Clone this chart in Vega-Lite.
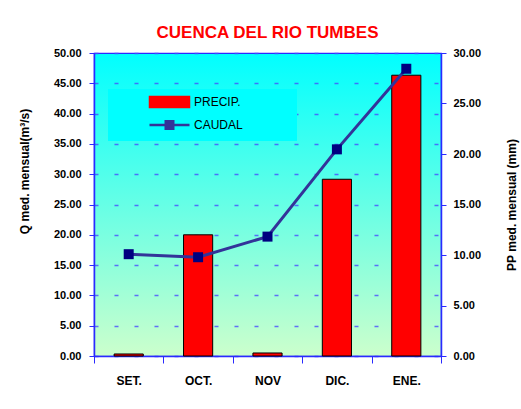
{
  "$schema": "https://vega.github.io/schema/vega-lite/v6.json",
  "width": 347,
  "height": 303,
  "autosize": {"type": "none"},
  "padding": {"left": 94, "top": 53, "right": 80, "bottom": 53},
  "background": "white",
  "config": {
    "view": {
      "stroke": "#2a2aff",
      "strokeWidth": 1.2,
      "fill": {"gradient": "linear", "x1": 0, "y1": 0, "x2": 0, "y2": 1,
        "stops": [{"offset": 0, "color": "#00ffff"}, {"offset": 1, "color": "#ccffcc"}]}
    },
    "font": "Liberation Sans"
  },
  "title": {
    "text": "CUENCA DEL RIO TUMBES",
    "color": "#ff0000",
    "font": "Liberation Sans",
    "fontSize": 17,
    "fontWeight": "bold",
    "anchor": "middle",
    "frame": "group",
    "baseline": "alphabetic",
    "offset": 8,
    "dy": 16
  },
  "data": {"values": [
    {"mes": "SET.", "precip": 0.2, "caudal": 16.8},
    {"mes": "OCT.", "precip": 12.0, "caudal": 16.3},
    {"mes": "NOV", "precip": 0.3, "caudal": 19.7},
    {"mes": "DIC.", "precip": 17.5, "caudal": 34.1},
    {"mes": "ENE.", "precip": 27.8, "caudal": 47.4}
  ]},
  "encoding": {
    "x": {
      "field": "mes", "type": "nominal", "sort": null,
      "scale": {"paddingInner": 0, "paddingOuter": 0},
      "axis": {
        "title": null, "labelAngle": 0,
        "labelFont": "Liberation Sans", "labelFontSize": 12, "labelFontWeight": "bold", "labelColor": "black",
        "labelPadding": 12, "tickSize": 7, "tickColor": "#2a2aff", "domainColor": "#2a2aff",
        "tickBand": "extent", "domainWidth": 1.5, "tickWidth": 1, "grid": false
      }
    }
  },
  "layer": [
    {
      "mark": {"type": "bar", "width": {"band": 0.42}, "stroke": "black", "strokeWidth": 1},
      "encoding": {
        "y": {
          "field": "precip", "type": "quantitative",
          "scale": {"domain": [0, 30], "nice": false},
          "axis": {
            "orient": "right", "title": "PP med. mensual (mm)",
            "values": [0, 5, 10, 15, 20, 25, 30], "format": ".2f", "grid": false,
            "tickSize": 5, "labelPadding": 7, "labelFlush": false, "labelOverlap": false,
            "labelFont": "Liberation Sans", "labelFontSize": 11, "labelFontWeight": "bold", "labelColor": "black",
            "tickColor": "#2a2aff", "domainColor": "#2a2aff", "domainWidth": 1.5,
            "titleFont": "Liberation Sans", "titleFontSize": 12, "titleFontWeight": "bold", "titleColor": "black",
            "titleAngle": -90, "titleX": 70, "titleY": 151.5, "titleAlign": "center", "titleBaseline": "middle"
          }
        },
        "color": {
          "datum": "PRECIP.",
          "scale": {"domain": ["PRECIP.", "CAUDAL"], "range": ["#ff0000", "#333399"]},
          "legend": {
            "orient": "none", "legendX": 14, "legendY": 36, "title": null,
            "fillColor": "#00ffff", "padding": 7, "symbolSize": 225, "symbolOffset": 48.5,
            "labelOffset": 18.5, "rowPadding": 5,
            "labelFont": "Liberation Sans", "labelFontSize": 12, "labelColor": "black",
            "encode": {
              "symbols": {
                "update": {
                  "shape": {"signal": "datum.value === 'PRECIP.' ? 'M-2.667,-0.733L2.667,-0.733L2.667,0.733L-2.667,0.733Z M15.4,0' : 'M-2.667,0L-0.5,0M0.5,0L2.667,0M-0.5,-0.5L0.5,-0.5L0.5,0.5L-0.5,0.5Z M15.4,0'"},
                  "fill": {"signal": "datum.value === 'PRECIP.' ? '#ff0000' : '#000080'"},
                  "stroke": {"signal": "datum.value === 'PRECIP.' ? '#000000' : '#333399'"},
                  "strokeWidth": {"signal": "datum.value === 'PRECIP.' ? 1.5 : 2.5"}
                }
              }
            }
          }
        }
      }
    },
    {
      "encoding": {
        "y": {
          "field": "caudal", "type": "quantitative",
          "scale": {"domain": [0, 50], "nice": false},
          "axis": {
            "orient": "left", "title": "Q med. mensual(m³/s)",
            "values": [0, 5, 10, 15, 20, 25, 30, 35, 40, 45, 50], "format": ".2f",
            "grid": true, "gridDash": [4, 16], "gridColor": "#4a4aff", "gridOpacity": 0.8, "gridWidth": 1.5,
            "tickSize": 5, "labelPadding": 8, "labelFlush": false, "labelOverlap": false,
            "labelFont": "Liberation Sans", "labelFontSize": 11, "labelFontWeight": "bold", "labelColor": "black",
            "tickColor": "#2a2aff", "domainColor": "#2a2aff", "domainWidth": 1.5,
            "titleFont": "Liberation Sans", "titleFontSize": 12, "titleFontWeight": "bold", "titleColor": "black",
            "titleAngle": -90, "titleX": -70, "titleY": 118, "titleAlign": "center", "titleBaseline": "middle"
          }
        }
      },
      "layer": [
        {
          "mark": {"type": "line", "strokeWidth": 3},
          "encoding": {"color": {"datum": "CAUDAL", "legend": {
            "orient": "none", "legendX": 14, "legendY": 36, "title": null,
            "fillColor": "#00ffff", "padding": 7, "symbolSize": 225, "symbolOffset": 48.5,
            "labelOffset": 18.5, "rowPadding": 5,
            "labelFont": "Liberation Sans", "labelFontSize": 12, "labelColor": "black",
            "encode": {
              "symbols": {
                "update": {
                  "shape": {"signal": "datum.value === 'PRECIP.' ? 'M-2.667,-0.733L2.667,-0.733L2.667,0.733L-2.667,0.733Z M15.4,0' : 'M-2.667,0L-0.5,0M0.5,0L2.667,0M-0.5,-0.5L0.5,-0.5L0.5,0.5L-0.5,0.5Z M15.4,0'"},
                  "fill": {"signal": "datum.value === 'PRECIP.' ? '#ff0000' : '#000080'"},
                  "stroke": {"signal": "datum.value === 'PRECIP.' ? '#000000' : '#333399'"},
                  "strokeWidth": {"signal": "datum.value === 'PRECIP.' ? 1.5 : 2.5"}
                }
              }
            }
          }}}
        },
        {
          "mark": {"type": "point", "shape": "square", "filled": true, "size": 100, "color": "#000080", "opacity": 1}
        }
      ]
    }
  ],
  "resolve": {"scale": {"y": "independent"}}
}
